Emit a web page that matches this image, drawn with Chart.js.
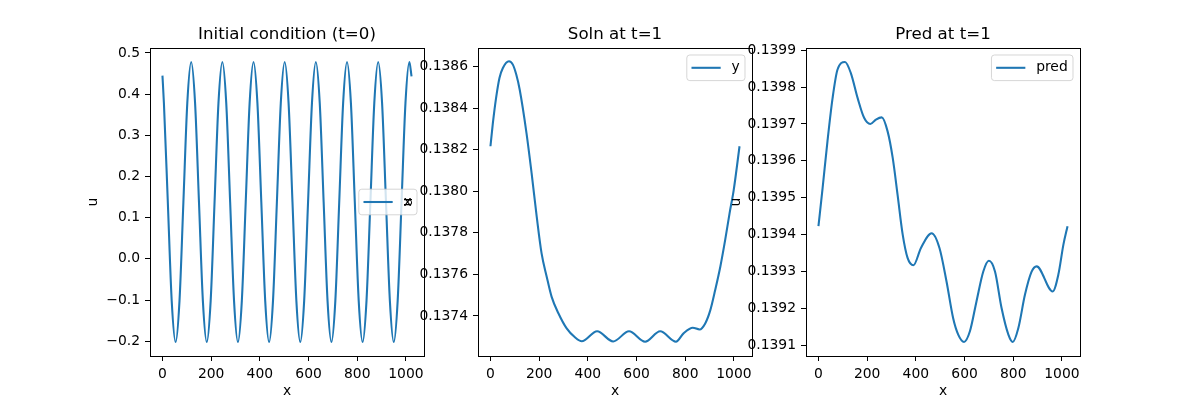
<!DOCTYPE html>
<html>
<head>
<meta charset="utf-8">
<title>Initial condition / Soln / Pred</title>
<script src="https://cdn.jsdelivr.net/npm/chart.js@4.4.1/dist/chart.umd.min.js"></script>
<style>
  html, body { margin: 0; padding: 0; background: #fff; }
  body { width: 1200px; height: 400px; position: relative; overflow: hidden; }
  canvas { position: absolute; top: 0; }
</style>
</head>
<body>
<canvas id="c0" width="364" height="400" style="left:85px"></canvas>
<canvas id="c1" width="377" height="400" style="left:400px"></canvas>
<canvas id="c2" width="377" height="400" style="left:728px"></canvas>
<script>
// shared x axis
const xTicks = [0, 200, 400, 600, 800, 1000];
const xTickLabels = ['0', '200', '400', '600', '800', '1000'];

// initial condition (t=0)
const x0 = [0, 6, 22, 38, 54, 70, 86, 102, 118, 134, 150, 166, 182, 198, 214, 230,
  246, 262, 278, 294, 310, 326, 342, 358, 374, 390, 406, 422, 438, 454, 470, 486,
  502, 518, 534, 550, 566, 582, 598, 614, 630, 646, 662, 678, 694, 710, 726, 742,
  758, 774, 790, 806, 822, 838, 854, 870, 886, 902, 918, 934, 950, 966, 982, 998,
  1014, 1023];
const u0 = [0.445,
  0.378, 0.138, -0.102, -0.202, -0.102, 0.138, 0.378, 0.478,
  0.378, 0.138, -0.102, -0.202, -0.102, 0.138, 0.378, 0.478,
  0.378, 0.138, -0.102, -0.202, -0.102, 0.138, 0.378, 0.478,
  0.378, 0.138, -0.102, -0.202, -0.102, 0.138, 0.378, 0.478,
  0.378, 0.138, -0.102, -0.202, -0.102, 0.138, 0.378, 0.478,
  0.378, 0.138, -0.102, -0.202, -0.102, 0.138, 0.378, 0.478,
  0.378, 0.138, -0.102, -0.202, -0.102, 0.138, 0.378, 0.478,
  0.378, 0.138, -0.102, -0.202, -0.102, 0.138, 0.378, 0.478,
  0.443];
const u0Ticks = [-0.2, -0.1, 0.0, 0.1, 0.2, 0.3, 0.4, 0.5];
const u0TickLabels = ['\u22120.2', '\u22120.1', '0.0', '0.1', '0.2', '0.3', '0.4', '0.5'];

// solution at t=1
const x1 = [0, 10, 23, 37, 51, 76, 92, 106, 120, 148, 169, 190, 210, 231, 251, 279,
  313, 347, 375, 438, 504, 569, 635, 697, 762, 793, 831, 859, 882, 903, 923, 944,
  964, 982, 999, 1023];
const u1 = [0.138217, 0.138329, 0.138449, 0.138546, 0.138594, 0.138626, 0.13861, 0.138562,
  0.13849, 0.13828, 0.138087, 0.137878, 0.137701, 0.137589, 0.137493, 0.137413,
  0.13734, 0.137297, 0.137278, 0.137326, 0.137277, 0.137326, 0.137276, 0.137326,
  0.137276, 0.137316, 0.137343, 0.137335, 0.137364, 0.137428, 0.137525, 0.137637,
  0.137766, 0.137894, 0.138006, 0.138217];
const u1Ticks = [0.1374, 0.1376, 0.1378, 0.1380, 0.1382, 0.1384, 0.1386];
const u1TickLabels = ['0.1374', '0.1376', '0.1378', '0.1380', '0.1382', '0.1384', '0.1386'];

// prediction at t=1
const x2 = [0, 17, 37, 58, 78, 109, 133, 161, 188, 213, 236, 260, 284, 305, 325, 346,
  366, 390, 421, 465, 497, 526, 553, 574, 598, 622, 649, 677, 700, 725, 752, 780,
  798, 821, 848, 875, 896, 962, 985, 1006, 1023];
const u2 = [0.139423, 0.139526, 0.139653, 0.13977, 0.139847, 0.139868, 0.139838, 0.13977,
  0.139716, 0.1397, 0.139712, 0.139718, 0.13968, 0.139608, 0.139508, 0.1394,
  0.139337, 0.139317, 0.139364, 0.139404, 0.139364, 0.139273, 0.139174, 0.139129,
  0.139109, 0.139138, 0.139219, 0.1393, 0.139329, 0.1393, 0.139201, 0.139129,
  0.139109, 0.139147, 0.139237, 0.139299, 0.139314, 0.139246, 0.139291,
  0.139373, 0.139423];
const u2Ticks = [0.1391, 0.1392, 0.1393, 0.1394, 0.1395, 0.1396, 0.1397, 0.1398, 0.1399];
const u2TickLabels = ['0.1391', '0.1392', '0.1393', '0.1394', '0.1395', '0.1396', '0.1397', '0.1398', '0.1399'];

const FONT = 'DejaVu Sans';
const C0 = '#1f77b4';
const LW = 2.08; // 1.5pt at 100 dpi

// box round the axes, like the matplotlib spines
const frame = {
  id: 'frame',
  afterDatasetsDraw(chart) {
    const { ctx, chartArea: a } = chart;
    ctx.save();
    ctx.strokeStyle = '#000';
    ctx.lineWidth = 1;
    ctx.strokeRect(Math.round(a.left) + 0.5, Math.round(a.top) + 0.5,
      Math.round(a.right) - Math.round(a.left), Math.round(a.bottom) - Math.round(a.top));
    ctx.restore();
  }
};

// legend inside the axes
const legendBox = {
  id: 'legendBox',
  afterDraw(chart, args, opts) {
    const { ctx, chartArea: a } = chart;
    const ds = chart.data.datasets[0];
    ctx.save();
    ctx.font = `13.89px "${FONT}"`;
    const tw = ctx.measureText(ds.label).width;
    const w = 4.7 + 29.2 + 10.8 + tw + 5.3, h = 25.6;
    const x = a.right - 7 - w;
    const y = opts.loc === 'right' ? (a.top + a.bottom) / 2 - h / 2 : a.top + 7;
    ctx.beginPath();
    ctx.roundRect(x, y, w, h, 3);
    ctx.fillStyle = 'rgba(255,255,255,0.8)';
    ctx.fill();
    ctx.strokeStyle = 'rgba(204,204,204,0.8)';
    ctx.lineWidth = 1;
    ctx.stroke();
    ctx.beginPath();
    ctx.moveTo(x + 4.7, y + h / 2);
    ctx.lineTo(x + 4.7 + 29.2, y + h / 2);
    ctx.strokeStyle = ds.borderColor;
    ctx.lineWidth = LW;
    ctx.stroke();
    ctx.fillStyle = '#000';
    ctx.textBaseline = 'middle';
    ctx.fillText(ds.label, x + 4.7 + 29.2 + 10.8, y + h / 2);
    ctx.restore();
  }
};

function makePanel(id, opt) {
  const font = { family: FONT, size: 13.89 };
  return new Chart(document.getElementById(id), {
    type: 'line',
    data: {
      datasets: [{
        label: opt.label,
        data: opt.xs.map((x, i) => ({ x, y: opt.ys[i] })),
        borderColor: C0,
        borderWidth: LW,
        pointRadius: 0,
        fill: false,
        cubicInterpolationMode: 'monotone'
      }]
    },
    options: {
      responsive: false,
      animation: false,
      layout: { padding: { left: 0, right: 25, top: 0, bottom: 0 } },
      plugins: {
        legend: { display: false },
        tooltip: { enabled: false },
        title: {
          display: true, text: opt.title, color: '#000', fullSize: false,
          font: { family: FONT, size: 16.67, weight: 'normal', lineHeight: 1.2 },
          padding: { top: 24.75, bottom: 3.25 }
        },
        legendBox: { loc: opt.loc }
      },
      scales: {
        x: {
          type: 'linear', min: -51.15, max: 1074.15,
          afterBuildTicks: s => { s.ticks = xTicks.map(v => ({ value: v })); },
          afterFit: s => { s.height = 44; },
          grid: { drawOnChartArea: false, tickLength: 5, color: '#000', tickColor: '#000' },
          border: { display: false },
          ticks: { autoSkip: false, maxRotation: 0, padding: 5, color: '#000', font,
            callback: (v, i) => xTickLabels[i] },
          title: { display: true, text: 'x', color: '#000', font, padding: { top: 0, bottom: 0.5 } }
        },
        y: {
          type: 'linear', min: opt.min, max: opt.max,
          afterBuildTicks: s => { s.ticks = opt.ticks.map(v => ({ value: v })); },
          afterFit: s => { s.width = opt.yw; },
          grid: { drawOnChartArea: false, tickLength: 5, color: '#000', tickColor: '#000' },
          border: { display: false },
          ticks: { autoSkip: false, padding: 5, color: '#000', font,
            callback: (v, i) => opt.tickLabels[i] },
          title: { display: true, text: 'u', color: '#000', font, padding: { top: 0, bottom: 0 } }
        }
      }
    },
    plugins: [frame, legendBox]
  });
}

document.addEventListener('DOMContentLoaded', () => {
  makePanel('c0', { title: 'Initial condition (t=0)', label: 'x', xs: x0, ys: u0,
    min: -0.236, max: 0.512, ticks: u0Ticks, tickLabels: u0TickLabels, yw: 65, loc: 'right' });
  makePanel('c1', { title: 'Soln at t=1', label: 'y', xs: x1, ys: u1,
    min: 0.137207, max: 0.13869, ticks: u1Ticks, tickLabels: u1TickLabels, yw: 78, loc: 'upper right' });
  makePanel('c2', { title: 'Pred at t=1', label: 'pred', xs: x2, ys: u2,
    min: 0.139071, max: 0.139906, ticks: u2Ticks, tickLabels: u2TickLabels, yw: 78, loc: 'upper right' });
});
</script>
</body>
</html>
